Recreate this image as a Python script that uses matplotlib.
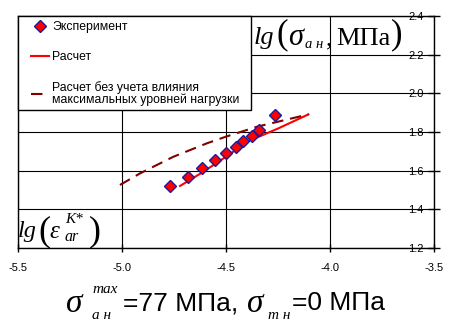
import matplotlib
matplotlib.use("Agg")
import matplotlib.pyplot as plt
from matplotlib.legend_handler import HandlerLine2D

plt.rcParams['font.family'] = ['Liberation Sans', 'DejaVu Sans']

W, H = 453, 326

# experiment points (lg eps, lg sigma)
exp_x = [-4.769, -4.681, -4.617, -4.553, -4.500, -4.453, -4.420, -4.373, -4.341, -4.264]
exp_y = [1.522, 1.569, 1.612, 1.654, 1.690, 1.721, 1.753, 1.781, 1.809, 1.888]

# calculation
calc_x = [-4.721, -4.617, -4.500, -4.393, -4.250, -4.104]
calc_y = [1.521, 1.589, 1.672, 1.752, 1.818, 1.891]

# calculation without max load levels
calc2_x = [-5.010, -4.913, -4.865, -4.753, -4.593, -4.500, -4.352, -4.104]
calc2_y = [1.526, 1.586, 1.612, 1.672, 1.741, 1.776, 1.827, 1.891]

xticks = [-5.5, -5.0, -4.5, -4.0, -3.5]
yticks = [1.2, 1.4, 1.6, 1.8, 2.0, 2.2, 2.4]

fig = plt.figure(figsize=(W/100, H/100), dpi=100)
ax = fig.add_axes([18/W, 1-248/H, 416/W, 232/H])

ax.plot(exp_x, exp_y, linestyle='none', marker='D', markersize=5.8,
        markerfacecolor='#ff0000', markeredgecolor='#1a1aa0', markeredgewidth=1,
        label='Эксперимент', zorder=5)
ax.plot(calc_x, calc_y, color='#ff0000', lw=1.5, label='Расчет', zorder=4)
ax.plot(calc2_x, calc2_y, color='#800000', lw=1.5, dashes=(5.5, 3.3),
        label='Расчет без учета влияния\nмаксимальных уровней нагрузки  ', zorder=4)

ax.set_xlim(-5.5, -3.5)
ax.set_ylim(1.2, 2.4)
ax.set_xticks(xticks)
ax.set_yticks(yticks)
ax.set_xticklabels(['%.1f' % v for v in xticks])
ax.set_yticklabels(['%.1f' % v for v in yticks])
ax.grid(True, color='black', lw=0.8)

for s in ax.spines.values():
    s.set_color('black')
    s.set_linewidth(1)

ax.tick_params(axis='x', direction='inout', length=6, labelsize=8, pad=8, width=1)
ax.tick_params(axis='y', left=False, right=True, labelleft=False, labelright=True,
               direction='inout', length=9, labelsize=8, pad=-12, width=1)
for t in ax.get_yticklabels():
    t.set_horizontalalignment('right')

hnd = HandlerLine2D(xpad=0.64)
leg = ax.legend(loc='upper left', bbox_to_anchor=(0, 1), borderaxespad=0,
                fontsize=8.8, labelspacing=1.5, handlelength=2.16, handletextpad=0.22,
                borderpad=0.4, fancybox=False, framealpha=1, edgecolor='black',
                handler_map={l: hnd for l in ax.get_lines()})
leg.get_frame().set_linewidth(1)
leg.get_texts()[2].set_linespacing(0.85)
leg.set_zorder(10)


def put(x, y, s, size, family='Liberation Serif', style='normal'):
    # x, y: left edge / baseline in pixels from top-left
    fig.text(x/W, 1-y/H, s, fontsize=size, family=family, style=style,
             ha='left', va='baseline', zorder=20)


# lg(sigma_a n, MPa) in upper right
put(254, 44, 'lg', 19, style='italic')
put(277, 43, '(', 25)
put(288, 45, 'σ', 22, style='italic')
put(305, 48, 'а н', 10.5, style='italic')
put(326, 45, ',', 19)
put(336, 45, 'МПа', 19)
put(391, 43, ')', 25)

# lg(eps_ar^K*) in lower left
put(18, 237, 'lg', 17.5, style='italic')
put(38, 240, '(', 26)
put(49, 238, 'ε', 18, style='italic')
put(65, 223, 'K*', 11, style='italic')
put(65, 241, 'ar', 11.5, style='italic')
put(89, 240, ')', 26)

# caption
put(66, 312, 'σ', 24, style='italic')
put(92, 293, 'max', 11, style='italic')
put(92, 319, 'а н', 11, style='italic')
put(123, 310, '=77 МПа,', 19, family='Liberation Sans')
put(247, 312, 'σ', 24, style='italic')
put(268, 319, 'т н', 11, style='italic')
put(292, 310, '=0 МПа', 19, family='Liberation Sans')

fig.savefig('out.png', dpi=100)
